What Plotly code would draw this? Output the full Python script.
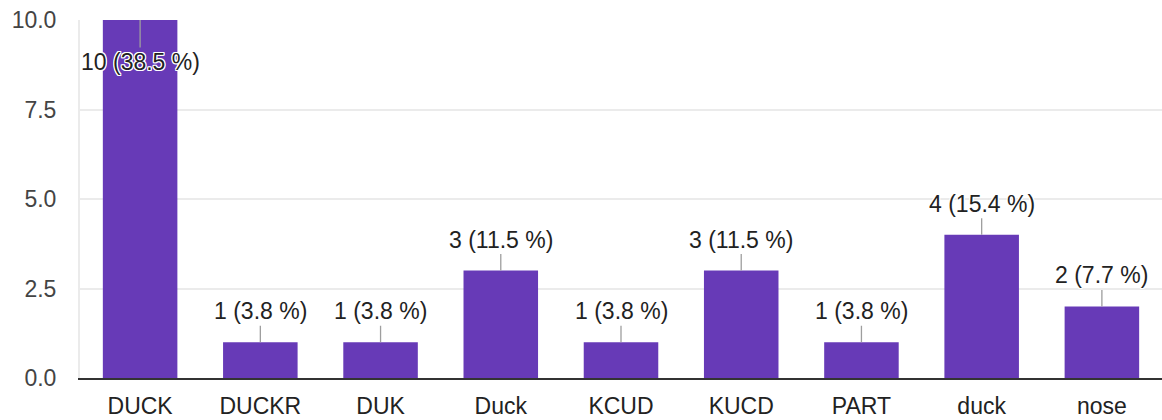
import plotly.graph_objects as go

categories = ["DUCK", "DUCKR", "DUK", "Duck", "KCUD", "KUCD", "PART", "duck", "nose"]
counts = [10, 1, 1, 3, 1, 3, 1, 4, 2]
percents = ["38.5", "3.8", "3.8", "11.5", "3.8", "11.5", "3.8", "15.4", "7.7"]
y_ticks = [0, 2.5, 5, 7.5, 10]
y_tick_labels = ["0.0", "2.5", "5.0", "7.5", "10.0"]

FONT = "Liberation Sans, Arial, sans-serif"
BAR = "#673ab7"
HALO = "white 1px 1px 0px, white -1px -1px 0px, white 1px -1px 0px, white -1px 1px 0px, white 0px 1px 0px, white 0px -1px 0px, white 1px 0px 0px, white -1px 0px 0px"

fig = go.Figure(go.Bar(x=categories, y=counts, marker_color=BAR, marker_line_width=0, width=0.62))

ymax = max(y_ticks)
for c, v, p in zip(categories, counts, percents):
    inside = v >= ymax
    fig.add_annotation(
        x=c, y=v, text=f"{v} ({p} %)",
        showarrow=True, arrowhead=0, arrowwidth=1.3, arrowcolor="#9e9e9e",
        standoff=0, startstandoff=0, ax=0, ay=42 if inside else -31,
        font=dict(family=FONT, size=23, color="#222222", shadow=HALO),
    )

fig.update_layout(
    width=1162, height=420,
    margin=dict(l=80, r=0, t=20, b=42),
    paper_bgcolor="white", plot_bgcolor="white",
    showlegend=False, bargap=0.38,
    font=dict(family=FONT),
)
fig.update_xaxes(
    type="category", range=[-0.5, 8.5], showgrid=False,
    showline=True, linecolor="#333333", linewidth=2,
    ticks="outside", ticklen=6, tickcolor="rgba(0,0,0,0)",
    tickfont=dict(family=FONT, size=23, color="#222222"),
)
fig.update_yaxes(
    range=[0, 10], tickvals=y_ticks, ticktext=y_tick_labels,
    showgrid=True, gridcolor="#ebebeb", gridwidth=2,
    zeroline=False, showline=True, linecolor="#ebebeb", linewidth=2,
    ticks="outside", ticklen=17, tickcolor="rgba(0,0,0,0)",
    tickfont=dict(family=FONT, size=23, color="#444444"),
)
fig.write_html(
    "out.html",
    config={"displayModeBar": False},
    post_script="document.body.style.margin='0';document.body.style.overflow='hidden';",
)
